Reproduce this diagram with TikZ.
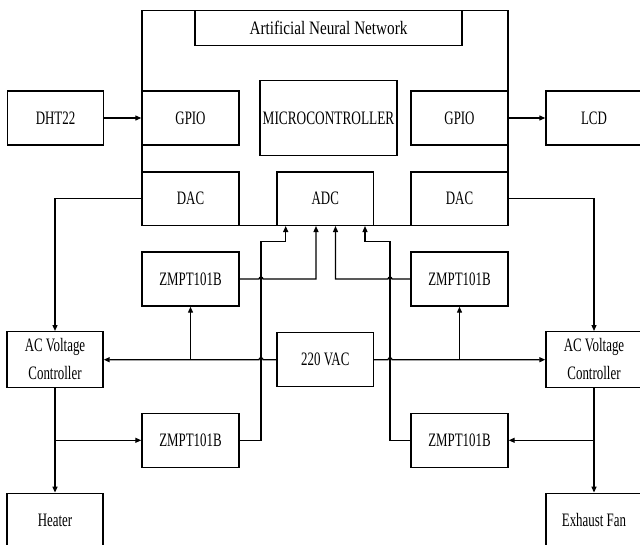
\documentclass[tikz,border=0pt]{standalone}
\usepackage{fontspec}
\setmainfont{Liberation Serif}
\usetikzlibrary{arrows.meta}
\newcommand\sq[2][0.68]{\scalebox{#1}[1]{#2}}
\begin{document}
\begin{tikzpicture}[x=1pt,y=-1pt,
  box/.style={draw, line width=1.4pt, inner sep=0pt, minimum width=97pt, minimum height=54pt,
              font=\fontsize{19}{22}\selectfont},
  sbox/.style={box, minimum width=96pt},
  conn/.style={line width=1.2pt},
  arr/.style={conn, -{Triangle[length=6pt,width=5pt]}}]
\useasboundingbox (0,0) rectangle (640,544);
\clip (0,0) rectangle (640,544);
% microcontroller frame
\node[box, minimum width=366pt, minimum height=214.6pt] (main) at (325,118) {};
\node[box, minimum width=267pt, minimum height=35pt] (ann) at (328.5,28.2) {\sq[0.8]{Artificial Neural Network}};
\node[box, minimum width=137pt, minimum height=75pt] (micro) at (328.5,118.2) {\sq[0.7]{MICROCONTROLLER}};
\node[box] (gpioL) at (190.5,118) {\sq{GPIO}};
\node[box] (gpioR) at (459.5,118) {\sq{GPIO}};
\node[box, minimum height=53.3pt] (dacL) at (190.5,198.65) {\sq{DAC}};
\node[box, minimum width=96.5pt, minimum height=53.3pt] (adc) at (325.25,198.65) {\sq{ADC}};
\node[box, minimum height=53.3pt] (dacR) at (459.5,198.65) {\sq{DAC}};
% outer blocks
\node[sbox] (dht) at (55.5,118) {\sq{DHT22}};
\node[sbox] (lcd) at (594,118) {\sq{LCD}};
\node[box] (zmptTL) at (190.5,279) {\sq{ZMPT101B}};
\node[box] (zmptTR) at (459.5,279) {\sq{ZMPT101B}};
\node[sbox] (acL) at (55,359.7) {\sq{\fontsize{19}{28}\selectfont\begin{tabular}{@{}c@{}}AC Voltage\\Controller\end{tabular}}};
\node[box, minimum width=96.5pt] (vac) at (325.25,359.7) {\sq{220 VAC}};
\node[sbox] (acR) at (594,359.7) {\sq{\fontsize{19}{28}\selectfont\begin{tabular}{@{}c@{}}AC Voltage\\Controller\end{tabular}}};
\node[box] (zmptBL) at (190.5,440.3) {\sq{ZMPT101B}};
\node[box] (zmptBR) at (459.5,440.3) {\sq{ZMPT101B}};
\node[sbox] (heater) at (55,520.3) {\sq{Heater}};
\node[sbox] (fan) at (594,520.3) {\sq{Exhaust Fan}};
% connectors
\draw[arr] (dht) -- (gpioL);
\draw[arr] (gpioR) -- (lcd);
\draw[arr] (dacL.west) -| (acL.north);
\draw[arr] (dacR.east) -| (acR.north);
\draw[arr] (vac.west) -- (263,359.7) arc (0:-180:2) -- (acL.east);
\draw[arr] (vac.east) -- (388,359.7) arc (180:360:2) -- (acR.west);
\draw[arr] (zmptTL.south |- vac.west) -- (zmptTL.south);
\draw[arr] (zmptTR.south |- vac.east) -- (zmptTR.south);
\draw[arr] (zmptTL.east) -- (259,279) arc (180:360:2) -- (316,279) -- (316,279 |- adc.south);
\draw[arr] (zmptTR.west) -- (392,279) arc (0:-180:2) -- (335.5,279) -- (335.5,279 |- adc.south);
\draw[arr] (acL.south) -- (heater.north);
\draw[arr] (acL.south |- zmptBL.west) -- (zmptBL.west);
\draw[arr] (zmptBL.east) -| (261,241.7) -| (285.7,241.7 |- adc.south);
\draw[arr] (acR.south) -- (fan.north);
\draw[arr] (acR.south |- zmptBR.east) -- (zmptBR.east);
\draw[arr] (zmptBR.west) -| (390,241.7) -| (365,241.7 |- adc.south);
\end{tikzpicture}
\end{document}
